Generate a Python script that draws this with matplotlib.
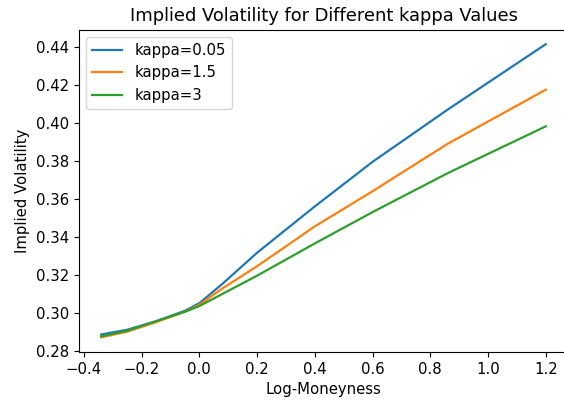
import matplotlib
matplotlib.use('Agg')
import matplotlib.pyplot as plt

# log-moneyness grid and implied vols
log_moneyness = [-0.34, -0.25, -0.15, -0.05, 0.0, 0.08, 0.2, 0.4, 0.6, 0.86, 1.2]
iv_kappa_005 = [0.2885, 0.2910, 0.2955, 0.3010, 0.3050, 0.3152, 0.3316, 0.3560, 0.3795, 0.4070, 0.4415]
iv_kappa_15 = [0.2870, 0.2900, 0.2950, 0.3005, 0.3042, 0.3128, 0.3245, 0.3455, 0.3640, 0.3890, 0.4175]
iv_kappa_3 = [0.2875, 0.2905, 0.2955, 0.3005, 0.3035, 0.3099, 0.3195, 0.3365, 0.3530, 0.3735, 0.3982]
labels = ['kappa=0.05', 'kappa=1.5', 'kappa=3']

plt.rcParams['font.size'] = 10.75

fig = plt.figure(figsize=(5.64, 4.03), dpi=100)
ax = fig.add_axes([79 / 564, 51 / 403, 489 / 564, 322.5 / 403])

for iv, lab in zip([iv_kappa_005, iv_kappa_15, iv_kappa_3], labels):
    ax.plot(log_moneyness, iv, label=lab, linewidth=1.6)

ax.set_xlabel('Log-Moneyness')
ax.set_ylabel('Implied Volatility')
ax.set_title('Implied Volatility for Different kappa Values')
ax.legend(loc='upper left')

fig.savefig('out.png', dpi=100)
